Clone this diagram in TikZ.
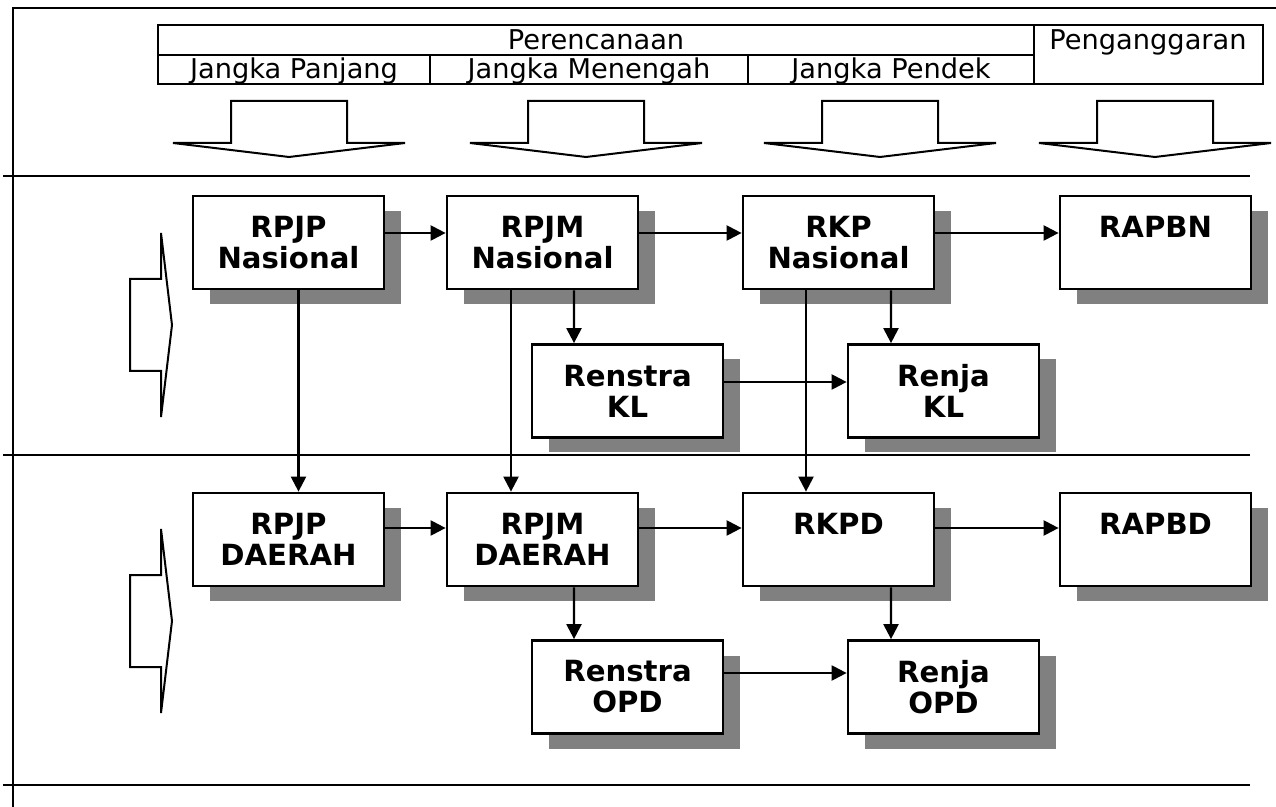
\documentclass[tikz,border=0pt]{standalone}
\usepackage{fontspec}
\setmainfont{DejaVu Sans}
\usetikzlibrary{arrows.meta,shadows}

\begin{document}
\begin{tikzpicture}[x=0.2mm, y=-0.2mm, line width=0.45mm, >={Triangle[length=3mm, width=3mm]}, hd/.style={font=\fontsize{15.5pt}{17pt}\selectfont, anchor=base, inner sep=0pt}, doc/.style={draw, line width=0.55mm, fill=white, minimum width=38.2mm, minimum height=18.6mm, inner sep=0pt, align=center, font=\fontsize{16.6pt}{17.6pt}\selectfont\bfseries, drop shadow={shadow xshift=3.4mm, shadow yshift=-3mm, fill=black!50, opacity=1}}, blk/.style={draw, fill=white, line width=0.4mm}]
	\useasboundingbox (0,0) rectangle (1276,807);
	\draw (13,807) -- (13,8) -- (1276,8);
	\foreach \y in {176,455,785} \draw (3,\y) -- (1250,\y);
	\draw (158,25) rectangle (1263,84); \draw (158,55) -- (1034,55); \draw (1034,25) -- (1034,84); \draw (430,55) -- (430,84); \draw (748,55) -- (748,84);
	\node[hd] (plan) at (596,50) {Perencanaan}; \node[hd] (budget) at (1148,50) {Penganggaran};
	\node[hd] (long) at (294,79) {Jangka Panjang}; \node[hd] (mid) at (589,79) {Jangka Menengah}; \node[hd] (short) at (891,79) {Jangka Pendek};
	\foreach \cx in {289,586,880,1155} \draw[blk] (\cx-58,143) -- (\cx-58,101) -- (\cx+58,101) -- (\cx+58,143) -- (\cx+116,143) -- (\cx,157) -- (\cx-116,143) -- cycle;
	\foreach \m in {325,621} \draw[blk] (161,\m-46) -- (130,\m-46) -- (130,\m+46) -- (161,\m+46) -- (161,\m+92) -- (172,\m) -- (161,\m-92) -- cycle;
	\node[doc] (RPJPN) at (288.5,242.5) {RPJP\\Nasional}; \node[doc] (RPJMN) at (542.5,242.5) {RPJM\\Nasional}; \node[doc] (RKPN) at (838.5,242.5) {RKP\\Nasional}; \node[doc] (RAPBN) at (1155.5,242.5) {RAPBN\\\phantom{X}};
	\node[doc] (RenstraKL) at (627.5,391) {Renstra\\KL}; \node[doc] (RenjaKL) at (943.5,391) {Renja\\KL};
	\node[doc] (RPJPD) at (288.5,539.5) {RPJP\\DAERAH}; \node[doc] (RPJMD) at (542.5,539.5) {RPJM\\DAERAH}; \node[doc] (RKPD) at (838.5,539.5) {RKPD\\\phantom{X}}; \node[doc] (RAPBD) at (1155.5,539.5) {RAPBD\\\phantom{X}};
	\node[doc] (RenstraOPD) at (627.5,687) {Renstra\\OPD}; \node[doc] (RenjaOPD) at (943.5,687) {Renja\\OPD};
	\draw[->] ([yshift=1.9mm]RPJPN.east) -- ([yshift=1.9mm]RPJMN.west); \draw[->] ([yshift=1.9mm]RPJMN.east) -- ([yshift=1.9mm]RKPN.west); \draw[->] ([yshift=1.9mm]RKPN.east) -- ([yshift=1.9mm]RAPBN.west);
	\draw[->] ([xshift=6.3mm]RPJMN.south) -- ([xshift=-10.7mm]RenstraKL.north); \draw[->] ([xshift=10.5mm]RKPN.south) -- ([xshift=-10.5mm]RenjaKL.north); \draw[->] ([yshift=1.8mm]RenstraKL.east) -- ([yshift=1.8mm]RenjaKL.west);
	\draw[->] ([xshift=2mm]RPJPN.south) -- ([xshift=2mm]RPJPD.north); \draw[->] ([xshift=-6.3mm]RPJMN.south) -- ([xshift=-6.3mm]RPJMD.north); \draw[->] ([xshift=-6.5mm]RKPN.south) -- ([xshift=-6.5mm]RKPD.north);
	\draw[->] ([yshift=2.3mm]RPJPD.east) -- ([yshift=2.3mm]RPJMD.west); \draw[->] ([yshift=2.3mm]RPJMD.east) -- ([yshift=2.3mm]RKPD.west); \draw[->] ([yshift=2.3mm]RKPD.east) -- ([yshift=2.3mm]RAPBD.west);
	\draw[->] ([xshift=6.3mm]RPJMD.south) -- ([xshift=-10.7mm]RenstraOPD.north); \draw[->] ([xshift=10.5mm]RKPD.south) -- ([xshift=-10.5mm]RenjaOPD.north); \draw[->] ([yshift=2.8mm]RenstraOPD.east) -- ([yshift=2.8mm]RenjaOPD.west);
\end{tikzpicture}
\end{document}
